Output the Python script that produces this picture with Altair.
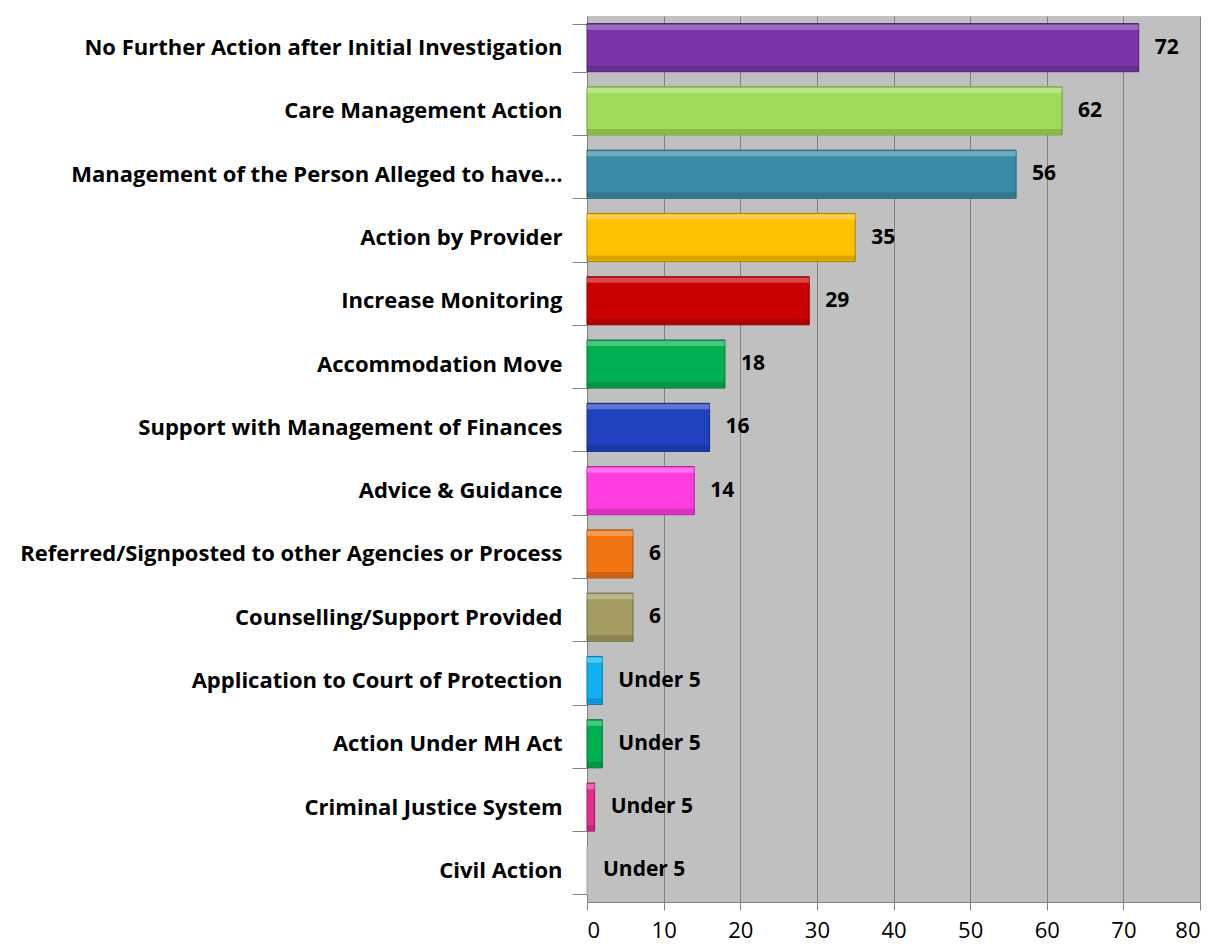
import altair as alt
import pandas as pd

categories = [
    "No Further Action after Initial Investigation",
    "Care Management Action",
    "Management of the Person Alleged to have…",
    "Action by Provider",
    "Increase Monitoring",
    "Accommodation Move",
    "Support with Management of Finances",
    "Advice & Guidance",
    "Referred/Signposted to other Agencies or Process",
    "Counselling/Support Provided",
    "Application to Court of Protection",
    "Action Under MH Act",
    "Criminal Justice System",
    "Civil Action",
]
values = [72, 62, 56, 35, 29, 18, 16, 14, 6, 6, 2, 2, 1, 0]
labels = ["72", "62", "56", "35", "29", "18", "16", "14", "6", "6",
          "Under 5", "Under 5", "Under 5", "Under 5"]
colors = ["#7a36a8", "#a0dc5a", "#3a8ca6", "#ffc000", "#cc0000", "#00b050",
          "#2042c0", "#ff3ce0", "#f07412", "#a39c62", "#12b0f0", "#00b050",
          "#e2308c", "#c0c0c0"]
strokes = ["#4e1f70", "#6e9e38", "#24606f", "#b08400", "#8a0000", "#00763a",
           "#142a80", "#b0209a", "#a8500a", "#6e6a40", "#0a7aa8", "#00763a",
           "#9c1f60", "#c0c0c0"]

df = pd.DataFrame({
    "category": categories,
    "value": values,
    "label": labels,
    "color": colors,
    "stroke": strokes,
})

FONT = "Open Sans"
GREY = "#808080"

y = alt.Y(
    "category:N",
    sort=categories,
    title=None,
    scale=alt.Scale(paddingInner=0.24, paddingOuter=0.12),
    axis=alt.Axis(
        tickBand="extent",
        tickSize=15,
        tickColor=GREY,
        domainColor=GREY,
        labelPadding=10,
        labelFont=FONT,
        labelFontSize=22,
        labelFontWeight="bold",
        labelColor="#000000",
        labelLimit=800,
        grid=False,
    ),
)
x = alt.X(
    "value:Q",
    title=None,
    scale=alt.Scale(domain=[0, 80], nice=False),
    axis=alt.Axis(
        values=[0, 10, 20, 30, 40, 50, 60, 70, 80],
        grid=True,
        gridColor=GREY,
        gridWidth=1,
        tickColor=GREY,
        tickSize=8,
        domainColor=GREY,
        labelFont=FONT,
        labelFontSize=22,
        labelColor="#000000",
        labelPadding=10,
    ),
)

base = alt.Chart(df)

bars = base.mark_bar(strokeWidth=1).encode(
    x=x,
    y=y,
    fill=alt.Fill("color:N", scale=None),
    stroke=alt.Stroke("stroke:N", scale=None),
)
highlight = base.mark_bar(size=5, yOffset=-20.5, color="white", opacity=0.28).encode(
    x=x, y=y
)
shade = base.mark_bar(size=5, yOffset=20.5, color="black", opacity=0.15).encode(
    x=x, y=y
)
text = base.mark_text(
    align="left", baseline="middle", dx=16, fontSize=21, fontWeight="bold",
    font=FONT, color="#000000"
).encode(x=x, y=y, text="label:N")

chart = (
    alt.layer(bars, highlight, shade, text)
    .properties(
        width=613,
        height=886,
        padding={"left": 579, "top": 8, "right": 10, "bottom": 42},
        autosize="none",
        background="white",
    )
    .configure_view(fill="#c0c0c0", stroke=None)
)

chart.save("out.html", embed_options={"renderer": "svg", "actions": False})
